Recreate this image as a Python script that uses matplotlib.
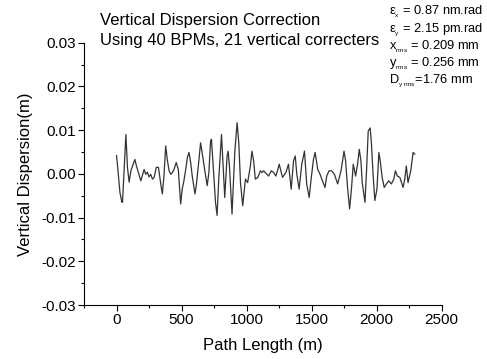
import matplotlib
matplotlib.use("Agg")
import matplotlib.pyplot as plt
from matplotlib.ticker import MultipleLocator, FormatStrFormatter

plt.rcParams['font.family'] = ['Liberation Sans', 'DejaVu Sans']
plt.rcParams['mathtext.fontset'] = 'custom'
plt.rcParams['mathtext.rm'] = 'Liberation Sans'
plt.rcParams['mathtext.it'] = 'Liberation Sans'

path_length = [0, 8, 26, 41, 46, 72, 84, 97, 110, 141, 153, 187, 212, 225, 237, 250, 263, 276,
               289, 306, 322, 340, 352, 365, 378, 390, 404, 417, 429, 442, 459, 475, 493, 505,
               518, 536, 544, 557, 570, 582, 603, 613, 633, 646, 658, 679, 697, 710, 723, 730,
               761, 773, 786, 807, 817, 832, 850, 858, 868, 888, 909, 927, 940, 953, 970, 991,
               1008, 1029, 1041, 1054, 1067, 1087, 1106, 1118, 1131, 1144, 1156, 1169, 1190,
               1208, 1225, 1240, 1251, 1276, 1302, 1322, 1343, 1361, 1374, 1386, 1404, 1424,
               1445, 1462, 1481, 1496, 1514, 1527, 1547, 1565, 1583, 1603, 1616, 1634, 1654,
               1675, 1700, 1726, 1749, 1761, 1776, 1792, 1807, 1820, 1838, 1853, 1866, 1879,
               1889, 1910, 1922, 1935, 1950, 1960, 1973, 1986, 2002, 2017, 2027, 2042, 2058,
               2075, 2093, 2113, 2132, 2144, 2159, 2178, 2203, 2216, 2228, 2241, 2262, 2280, 2292]
dispersion = [0.0042, 0.0018, -0.0042, -0.0065, -0.0065, 0.009, 0.0015, -0.0019, 0.0007, 0.0033,
              0.0018, -0.0016, 0.001, -0.0001, 0.0004, -0.0007, -0.0001, -0.0012, -0.0008, 0.0015,
              0.0015, -0.0023, -0.0046, -0.0004, 0.0064, 0.0033, 0.0007, -0.0001, 0.0003, 0.001,
              0.0026, 0.001, -0.0069, -0.0035, -0.0016, 0.0018, 0.0037, 0.0049, 0.0026, -0.0005,
              -0.0046, -0.0027, 0.003, 0.0071, 0.0049, 0.0007, -0.0027, 0.0003, 0.0075, 0.0079,
              -0.0065, -0.0095, -0.0012, 0.009, 0.0033, -0.0054, 0.0041, 0.0052, 0.0018, -0.0092,
              0.0049, 0.0117, 0.0071, -0.002, -0.0073, -0.0012, -0.002, 0.0018, 0.0052, 0.003,
              -0.0012, -0.0008, 0.0007, 0.0003, 0.0007, 0.0003, -0.0001, -0.0005, 0.0007, 0.0003,
              -0.0005, 0.001, 0.0022, -0.0008, 0.0003, 0.0022, -0.0035, 0.003, 0.0041, -0.0001,
              -0.0035, 0.0022, 0.0052, -0.0023, -0.0054, -0.0012, 0.0033, 0.0049, 0.001, -0.0001,
              -0.0016, -0.0031, -0.0005, 0.0007, 0.0007, -0.0001, -0.0023, 0.0007, 0.0052, 0.003,
              -0.0031, -0.008, -0.0031, 0.0022, -0.0005, 0.0022, 0.0056, 0.003, -0.002, -0.0065,
              0.0007, 0.0098, 0.0105, 0.0068, -0.0005, -0.0061, -0.0035, 0.0049, 0.003, -0.0008,
              -0.0031, -0.0023, -0.0016, -0.0023, -0.0012, 0.0007, -0.0005, -0.0008, -0.0031,
              -0.0012, 0.0018, -0.002, 0.0007, 0.0049, 0.0045]

title_lines = ["Vertical Dispersion Correction", "Using 40 BPMs, 21 vertical correcters"]
info_lines = [r"$\mathrm{ε}_{_{x}}$ = 0.87 nm.rad",
              r"$\mathrm{ε}_{_{y}}$ = 2.15 pm.rad",
              r"$\mathrm{x}_{_{rms}}$ = 0.209 mm",
              r"$\mathrm{y}_{_{rms}}$ = 0.256 mm",
              r"$\mathrm{D}_{_{y\ rms}}$=1.76 mm"]

fig = plt.figure(figsize=(4.87, 3.59), dpi=100)
ax = fig.add_axes([0.1725, 0.1504, 0.907 - 0.1725, 0.881 - 0.1504])
ax.plot(path_length, dispersion, color='#333333', lw=0.9)
ax.set_xlim(-250, 2500)
ax.set_ylim(-0.03, 0.03)
ax.xaxis.set_major_locator(MultipleLocator(500))
ax.xaxis.set_minor_locator(MultipleLocator(250))
ax.yaxis.set_major_locator(MultipleLocator(0.01))
ax.yaxis.set_minor_locator(MultipleLocator(0.005))
ax.yaxis.set_major_formatter(FormatStrFormatter('%.2f'))
for s in ['top', 'right']:
    ax.spines[s].set_visible(False)
ax.tick_params(which='major', direction='out', length=4.5, width=0.8, labelsize=11, pad=1.5)
ax.tick_params(which='minor', direction='out', length=2.5, width=0.8)
ax.set_xlabel("Path Length (m)", fontsize=12, labelpad=8)
ax.set_ylabel("Vertical Dispersion(m)", fontsize=12, labelpad=6)

fig.text(100 / 487, 1 - 21 / 359, title_lines[0], fontsize=12, va='center', ha='left')
fig.text(100 / 487, 1 - 41 / 359, title_lines[1], fontsize=12, va='center', ha='left')
ys = [12, 30, 47, 64, 81]
for t, yy in zip(info_lines, ys):
    fig.text(389 / 487, 1 - yy / 359, t, fontsize=9.3, va='center', ha='left')

fig.savefig("out.png", dpi=100)
